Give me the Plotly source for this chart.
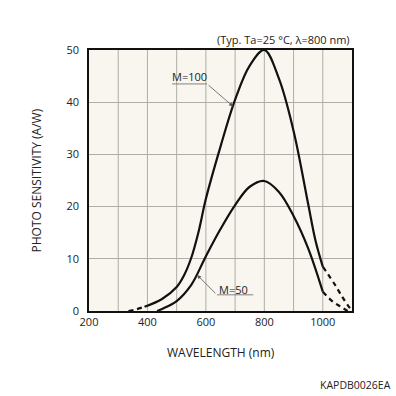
import plotly.graph_objects as go

# M=100 curve (solid part and dashed extrapolations)
m100_x = [390, 450, 500, 525, 550, 575, 600, 650, 700, 750, 800, 850, 900, 950, 975, 1000]
m100_y = [0.8, 2.3, 4.6, 6.8, 10.2, 15.2, 21.5, 31.5, 40.5, 47.0, 50.0, 44.5, 34.5, 20.5, 13.5, 8.5]
m100_lo_x = [335, 360, 390]
m100_lo_y = [0.0, 0.3, 0.8]
m100_hi_x = [1000, 1042, 1070, 1100]
m100_hi_y = [8.5, 5.0, 2.4, 0.0]

# M=50 curve
m50_x = [433, 450, 500, 550, 600, 650, 700, 750, 800, 850, 900, 950, 1000]
m50_y = [0.0, 0.4, 1.9, 5.0, 10.5, 15.7, 20.3, 23.8, 24.9, 22.8, 18.2, 12.0, 3.7]
m50_hi_x = [1000, 1030, 1059, 1085]
m50_hi_y = [3.7, 2.0, 0.9, 0.0]

x_ticks = [200, 400, 600, 800, 1000]
y_ticks = [0, 10, 20, 30, 40, 50]

FONT = "Open Sans"
INK = "#222222"
fig = go.Figure()
line_solid = dict(color="#111111", width=2.2, shape="spline", smoothing=1.0)
line_dash = dict(color="#111111", width=2.2, dash="5px,4px", shape="spline", smoothing=1.0)

fig.add_trace(go.Scatter(x=m100_x, y=m100_y, mode="lines", line=line_solid, hoverinfo="skip"))
fig.add_trace(go.Scatter(x=m100_lo_x, y=m100_lo_y, mode="lines", line=line_dash, hoverinfo="skip"))
fig.add_trace(go.Scatter(x=m100_hi_x, y=m100_hi_y, mode="lines", line=line_dash, hoverinfo="skip"))
fig.add_trace(go.Scatter(x=m50_x, y=m50_y, mode="lines", line=line_solid, hoverinfo="skip"))
fig.add_trace(go.Scatter(x=m50_hi_x, y=m50_hi_y, mode="lines", line=line_dash, hoverinfo="skip"))

grid = "#b0aea6"
fig.update_layout(
    width=396, height=396,
    margin=dict(l=89, r=44, t=50, b=85, autoexpand=False),
    paper_bgcolor="white",
    plot_bgcolor="#f8f6ef",
    showlegend=False,
    font=dict(family=FONT, size=11, color=INK),
    xaxis=dict(range=[200, 1100], tickvals=x_ticks, ticktext=[str(v) for v in x_ticks],
               showgrid=False, zeroline=False, showline=True, linecolor="#111111", linewidth=1.5,
               mirror=True, ticks="", ticklen=0, automargin=False),
    yaxis=dict(range=[0, 50], tickvals=y_ticks, showgrid=True, gridcolor=grid, gridwidth=1,
               zeroline=False, showline=True, linecolor="#111111", linewidth=1.5,
               mirror=True, ticks="", ticklen=0, automargin=False, ticklabelstandoff=6),
)

# vertical grid every 100 nm
for xv in range(300, 1100, 100):
    fig.add_shape(type="line", x0=xv, x1=xv, y0=0, y1=50, xref="x", yref="y",
                  line=dict(color=grid, width=1), layer="below")

# axis titles
fig.add_annotation(x=0.5, y=0, xref="paper", yref="paper", yshift=-41, yanchor="middle",
                   text="WAVELENGTH (nm)", showarrow=False, font=dict(size=12, color=INK))
fig.add_annotation(x=0, y=0.5, xref="paper", yref="paper", xshift=-53, xanchor="center",
                   text="PHOTO SENSITIVITY (A/W)", textangle=-90, showarrow=False,
                   font=dict(size=12, color=INK))

# annotations: M=100
fig.add_shape(type="line", x0=484, x1=604, y0=43.5, y1=43.5, line=dict(color="#666666", width=0.8))
fig.add_annotation(x=693, y=39.2, ax=604, ay=43.5, axref="x", ayref="y", xref="x", yref="y",
                   text="", showarrow=True, arrowhead=2, arrowsize=1, arrowwidth=0.8, arrowcolor="#555555")
fig.add_annotation(x=544, y=44.9, text="M=100", showarrow=False, yanchor="middle",
                   font=dict(size=11, color=INK))
# annotations: M=50
fig.add_shape(type="line", x0=638, x1=762, y0=3.1, y1=3.1, line=dict(color="#666666", width=0.8))
fig.add_annotation(x=570, y=6.9, ax=638, ay=3.1, axref="x", ayref="y", xref="x", yref="y",
                   text="", showarrow=True, arrowhead=2, arrowsize=1, arrowwidth=0.8, arrowcolor="#555555")
fig.add_annotation(x=696, y=4.1, text="M=50", showarrow=False, yanchor="middle",
                   font=dict(size=11, color=INK))

fig.add_annotation(x=1, y=1, xref="paper", yref="paper", xanchor="right", yanchor="bottom", yshift=1,
                   text="(Typ. Ta=25 °C, λ=800 nm)", showarrow=False, font=dict(size=11, color=INK))
fig.add_annotation(x=1, y=0, xref="paper", yref="paper", xanchor="right", yanchor="middle",
                   xshift=41, yshift=-74, text="KAPDB0026EA", showarrow=False,
                   font=dict(size=10.5, color=INK))

fig.write_html("out.html", config={"displayModeBar": False},
               post_script="document.body.style.margin='0';document.body.style.overflow='hidden';")
